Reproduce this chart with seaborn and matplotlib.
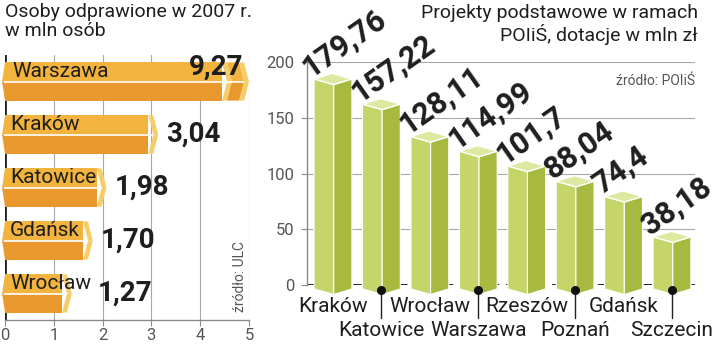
import numpy as np
import pandas as pd
import matplotlib
matplotlib.use("Agg")
import matplotlib.pyplot as plt
import seaborn as sns
from matplotlib.patches import Polygon, Rectangle

# ---------------- data ----------------
left_cities = ["Warszawa", "Kraków", "Katowice", "Gdańsk", "Wrocław"]
left_values = [9.27, 3.04, 1.98, 1.70, 1.27]
left_labels = ["9,27", "3,04", "1,98", "1,70", "1,27"]
left_ticks = [0, 1, 2, 3, 4, 5]
left_title = "Osoby odprawione w 2007 r.\nw mln osób"
left_source = "źródło: ULC"

right_cities = ["Kraków", "Katowice", "Wrocław", "Warszawa", "Rzeszów", "Poznań", "Gdańsk", "Szczecin"]
right_values = [179.76, 157.22, 128.11, 114.99, 101.7, 88.04, 74.4, 38.18]
right_labels = ["179,76", "157,22", "128,11", "114,99", "101,7", "88,04", "74,4", "38,18"]
right_ticks = [0, 50, 100, 150, 200]
right_title = "Projekty podstawowe w ramach\nPOIiŚ, dotacje w mln zł"
right_source = "źródło: POIiŚ"

# ---------------- style ----------------
sns.set_theme(style="white")
plt.rcParams['font.family'] = ['Roboto', 'DejaVu Sans']

O_UP, O_LOW, O_TIP = "#F2B43E", "#E9982D", "#F7CD6A"
G_LEFT, G_RIGHT, G_TOP = "#C6D56A", "#A8B93F", "#DEE8A0"
TXT = "#1e1e1e"

W, H = 720, 344
fig = plt.figure(figsize=(7.2, 3.44), dpi=100)


def axrect(x0, y0, x1, y1):
    return [x0 / W, 1 - y1 / H, (x1 - x0) / W, (y1 - y0) / H]


axL = fig.add_axes(axrect(5, 55, 249, 320))
axR = fig.add_axes(axrect(307, 62, 695, 285))

# ================= left panel =================
XMAX = 5
CUT = 4.45
TIPA, TIPB = 0.1, 0.1
dfL = pd.DataFrame({"city": left_cities, "value": left_values})
dfL["body"] = np.where(dfL["value"] > XMAX, CUT, dfL["value"] - TIPA)

sns.barplot(data=dfL, x="body", y="city", orient="h", color=O_LOW,
            width=0.72, saturation=1, errorbar=None, ax=axL,
            edgecolor="none", linewidth=0, zorder=3)


def chevron(ax, x, y0, h, a, b, cu, cl, z=4):
    ym = y0 + h / 2
    up = Polygon([(x, y0), (x + a, y0), (x + a + b, ym), (x + b, ym)],
                 closed=True, fc=cu, ec="none", zorder=z, clip_on=False)
    lo = Polygon([(x + b, ym), (x + a + b, ym), (x + a, y0 + h), (x, y0 + h)],
                 closed=True, fc=cl, ec="none", zorder=z, clip_on=False)
    ax.add_patch(up)
    ax.add_patch(lo)


name_texts = []
for i, p in enumerate(axL.patches[:len(left_cities)]):
    y0, h, e = p.get_y(), p.get_height(), p.get_width()
    ym = y0 + h / 2
    # upper lighter half
    axL.add_patch(Rectangle((0, y0), e, h / 2, fc=O_UP, ec="none", zorder=3.5))
    # left pointed end
    axL.add_patch(Polygon([(0, y0), (-0.06, ym), (0, ym)], fc=O_UP, ec="none",
                          zorder=3.5, clip_on=False))
    axL.add_patch(Polygon([(0, ym), (-0.06, ym), (0, y0 + h)], fc=O_LOW, ec="none",
                          zorder=3.5, clip_on=False))
    # right end
    chevron(axL, e, y0, h, 0, TIPB, O_UP, O_LOW)
    chevron(axL, e, y0, h, TIPA, TIPB, O_TIP, O_TIP, z=4.5)
    if left_values[i] > XMAX:
        chevron(axL, e + TIPA, y0, h, 0.25, TIPB, O_UP, O_LOW, z=4.6)
        chevron(axL, e + TIPA + 0.25, y0, h, TIPA, TIPB, O_TIP, O_TIP, z=4.7)
        end = e + TIPA + 0.25
    else:
        end = e
    # white separator
    axL.plot([-0.03, end + TIPB], [ym, ym], color="white", lw=1.2, zorder=5,
             solid_capstyle="butt", clip_on=False)
    t = axL.text(0.15 if i == 0 else 0.1, y0 + h * 0.24, left_cities[i], fontsize=15,
                 color=TXT, va="center", ha="left", zorder=6)
    name_texts.append(t)

axL.set_xlim(0, XMAX)
axL.set_ylim(len(left_cities) - 0.5, -0.5)
axL.set_xticks(left_ticks)
axL.set_xticklabels([str(v) for v in left_ticks])
axL.set_yticks([])
axL.set_xlabel("")
axL.set_ylabel("")
for s in ["top", "left", "right"]:
    axL.spines[s].set_visible(False)
axL.spines["bottom"].set_color("#8a8a8a")
axL.spines["bottom"].set_linewidth(1)
axL.tick_params(axis="x", length=4, width=0.8, color="#8a8a8a", labelsize=12,
                labelcolor="#555555", pad=2, bottom=True)
for v in left_ticks[1:]:
    axL.axvline(v, color="#a8a8a8", lw=0.8, zorder=1)
axL.axvline(0, color="#222222", lw=2, zorder=2)

axL.text(0.963, 0.03, left_source, transform=axL.transAxes, rotation=90,
         ha="center", va="bottom", fontsize=10, color="#555555")

fig.canvas.draw()
ren = fig.canvas.get_renderer()
inv = axL.transData.inverted()
for i, p in enumerate(axL.patches[:len(left_cities)]):
    y0, h = p.get_y(), p.get_height()
    if left_values[i] > XMAX:
        axL.text(4.88, y0 + h * 0.12, left_labels[i], fontsize=20, fontweight="bold",
                 color=TXT, ha="right", va="center", zorder=7)
    else:
        xd = axL.transData.transform((left_values[i] + TIPB, 0))[0] + 8
        nb = name_texts[i].get_window_extent(ren)
        xd = max(xd, nb.x1 + 7)
        xdat = inv.transform((xd, 0))[0]
        axL.text(xdat, y0 + h / 2, left_labels[i], fontsize=20, fontweight="bold",
                 color=TXT, ha="left", va="center", zorder=7)

# ================= right panel =================
dfR = pd.DataFrame({"city": right_cities, "value": right_values})
sns.barplot(data=dfR, x="city", y="value", color=G_LEFT, width=0.78,
            saturation=1, errorbar=None, ax=axR, edgecolor="none", zorder=3)

D = 5.0
B0 = -3.5
for i, p in enumerate(axR.patches[:len(right_cities)]):
    xl, w, v = p.get_x(), p.get_width(), p.get_height()
    xf = xl + 0.52 * w
    xr = xl + w
    xb = xl + (xr - xf)
    axR.add_patch(Polygon([(xl, B0), (xl, v + D), (xf, v), (xf, B0 - D)],
                          fc=G_LEFT, ec="white", lw=0.8, zorder=4, clip_on=False))
    axR.add_patch(Polygon([(xf, B0 - D), (xf, v), (xr, v + D), (xr, B0)],
                          fc=G_RIGHT, ec="white", lw=0.8, zorder=4, clip_on=False))
    axR.add_patch(Polygon([(xl, v + D), (xf, v), (xr, v + D), (xb, v + 2 * D)],
                          fc=G_TOP, ec="white", lw=1.0, zorder=5, clip_on=False))
    axR.text(xl - 0.07, v + 1.3 * D, right_labels[i], fontsize=22, fontweight="bold",
             color=TXT, rotation=35, rotation_mode="anchor", ha="left",
             va="baseline", zorder=7)
    xc = xl + w / 2
    tr = axR.get_xaxis_transform()
    if i % 2 == 0:
        axR.text(xc, -0.098, right_cities[i], transform=tr, fontsize=15, color=TXT,
                 ha="center", va="center")
    else:
        axR.plot([xc, xc], [-0.022, -0.15], transform=tr, color="#222222", lw=1,
                 clip_on=False, zorder=6)
        axR.plot([xc], [-0.022], transform=tr, marker="o", ms=5.5, color="#111111",
                 clip_on=False, zorder=6)
        axR.text(xc, -0.202, right_cities[i], transform=tr, fontsize=15, color=TXT,
                 ha="center", va="center")

axR.set_xlim(-0.537, 7.475)
axR.set_ylim(0, 200)
axR.set_yticks(right_ticks)
axR.set_yticklabels([str(v) for v in right_ticks])
axR.set_xticks([])
axR.set_xlabel("")
axR.set_ylabel("")
for s in ["top", "right", "bottom"]:
    axR.spines[s].set_visible(False)
axR.spines["left"].set_color("#8a8a8a")
axR.spines["left"].set_linewidth(1)
axR.tick_params(axis="y", length=4, width=0.8, color="#8a8a8a", labelsize=12,
                labelcolor="#555555", pad=5, left=True)
for v in right_ticks[1:]:
    axR.axhline(v, color="#a8a8a8", lw=0.8, zorder=1)
axR.axhline(0, color="#111111", lw=2, ls=(0, (3, 2.5)), zorder=2)

axR.text(1.0, 0.915, right_source, transform=axR.transAxes, ha="right", va="center",
         fontsize=10, color="#555555")

# ================= titles =================
fig.text(5 / W, 1 - 3 / H, left_title, ha="left", va="top", fontsize=14,
         color=TXT, linespacing=1.1)
fig.text(698 / W, 1 - 4 / H, right_title, ha="right", va="top", fontsize=14,
         color=TXT, linespacing=1.1, multialignment="right")

fig.savefig("out.png", dpi=100)
